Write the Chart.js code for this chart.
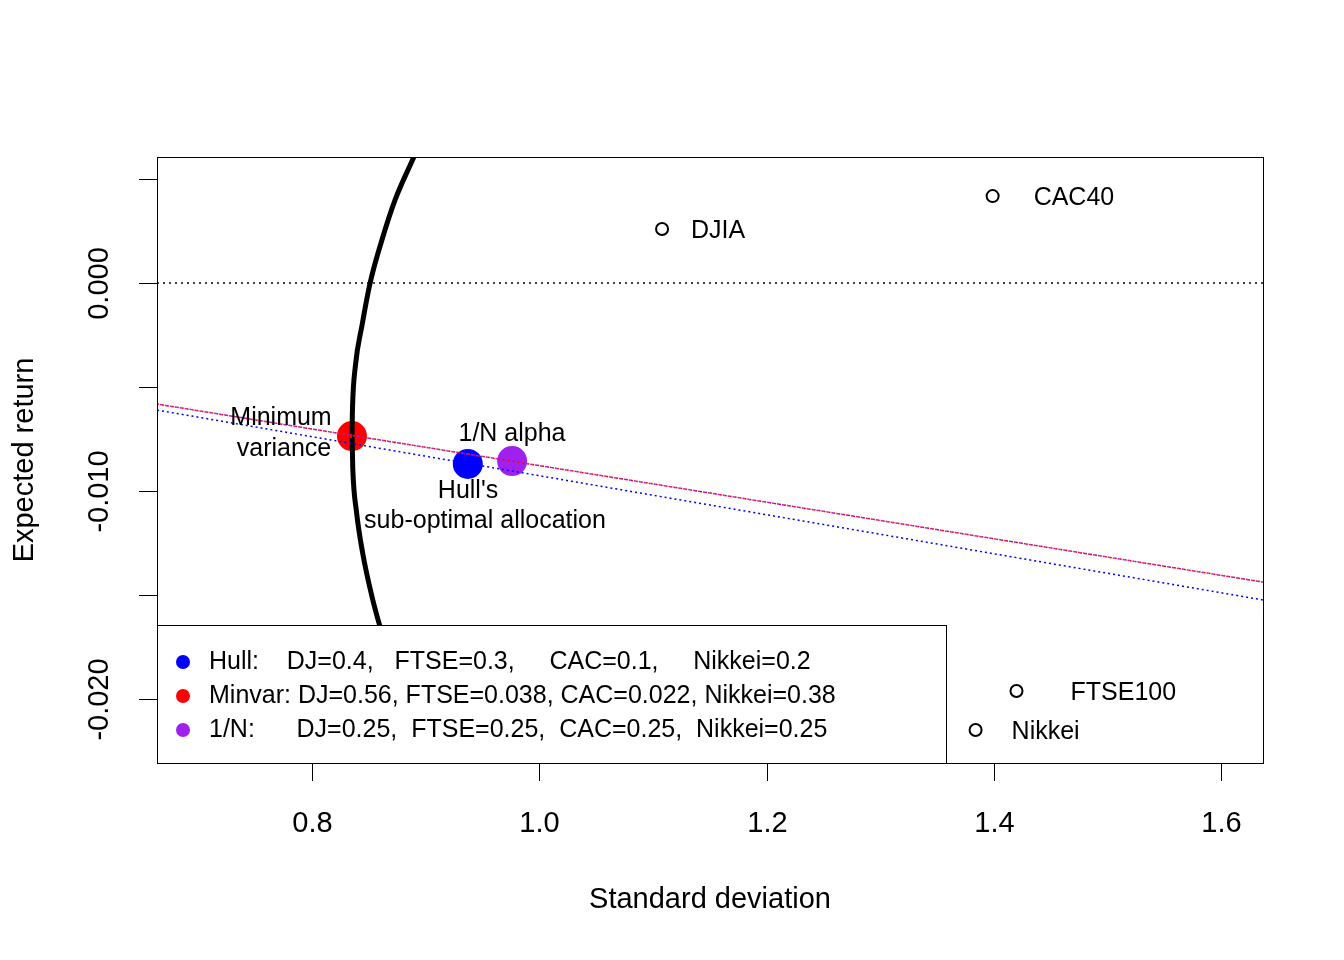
<!DOCTYPE html>
<html>
<head>
<meta charset="utf-8">
<script src="https://cdn.jsdelivr.net/npm/chart.js@4/dist/chart.umd.min.js"></script>
<style>
  html, body { margin: 0; padding: 0; background: #fff; }
  canvas { display: block; }
</style>
</head>
<body>
<canvas id="c" width="1344" height="960"></canvas>
<script>
'use strict';

// 各指数 (标准差, 期望收益)
var assetNames = ['DJIA', 'CAC40', 'FTSE100', 'Nikkei'];
var assetSd = [1.108, 1.399, 1.420, 1.384];
var assetRet = [0.0026, 0.00418, -0.01962, -0.02149];

// 组合
var minvarPt = { x: 0.835, y: -0.00736 };
var hullPt = { x: 0.937, y: -0.0087 };
var oneNPt = { x: 0.976, y: -0.00856 };

// 有效前沿
var frontierRet = [0.0065, 0.006, 0.004, 0.002, 0, -0.002, -0.004, -0.006, -0.00736, -0.009, -0.011, -0.013, -0.015, -0.0165, -0.019, -0.023];
var frontierSd = [0.893, 0.889, 0.873, 0.861, 0.851, 0.844, 0.838, 0.8355, 0.835, 0.8358, 0.839, 0.8445, 0.8523, 0.8596, 0.874, 0.904];

// 虚线
var hullLineX = [0.6634, 1.637];
var hullLineY = [-0.00611, -0.01524];
var oneNLineX = [0.6634, 1.637];
var oneNLineY = [-0.00582, -0.01438];

var xTicks = [0.8, 1.0, 1.2, 1.4, 1.6];
var yTicks = [0.005, 0, -0.005, -0.010, -0.015, -0.020];
var yTickLabels = { '0': '0.000', '-0.01': '-0.010', '-0.02': '-0.020' };

var legendColors = ['#0000ff', '#ff0000', '#a020f0'];
var legendTexts = [
  'Hull:    DJ=0.4,   FTSE=0.3,     CAC=0.1,     Nikkei=0.2',
  'Minvar: DJ=0.56, FTSE=0.038, CAC=0.022, Nikkei=0.38',
  '1/N:      DJ=0.25,  FTSE=0.25,  CAC=0.25,  Nikkei=0.25'
];

var FONT = 'Liberation Sans, Arial, sans-serif';

function zip(xs, ys) {
  return xs.map(function (x, i) { return { x: x, y: ys[i] }; });
}

var decorPlugin = {
  id: 'decor',
  afterDraw: function (chart) {
    var ctx = chart.ctx;
    var a = chart.chartArea;
    var xs = chart.scales.x, ys = chart.scales.y;
    ctx.save();
    ctx.fillStyle = '#000';
    ctx.strokeStyle = '#000';
    ctx.lineWidth = 1;

    // 点标签
    ctx.font = '25px ' + FONT;
    ctx.textBaseline = 'middle';
    ctx.textAlign = 'left';
    var offs = [29, 41, 54, 36];
    assetNames.forEach(function (n, i) {
      ctx.fillText(n, xs.getPixelForValue(assetSd[i]) + offs[i], ys.getPixelForValue(assetRet[i]) + 2);
    });
    ctx.textAlign = 'center';
    ctx.fillText('Minimum', 281, 418);
    ctx.fillText('variance', 284, 449);
    ctx.fillText('1/N alpha', 512, 434);
    ctx.fillText("Hull's", 468, 491);
    ctx.fillText('sub-optimal allocation', 485, 521);

    // 图例
    ctx.fillStyle = '#fff';
    ctx.fillRect(a.left, 625, 946 - a.left, a.bottom - 625);
    ctx.strokeRect(a.left + 0.5, 625.5, 946 - a.left, a.bottom - 625);
    legendTexts.forEach(function (t, i) {
      var y = 662 + i * 34;
      ctx.fillStyle = legendColors[i];
      ctx.beginPath();
      ctx.arc(183, y, 7, 0, Math.PI * 2);
      ctx.fill();
      ctx.fillStyle = '#000';
      ctx.textAlign = 'left';
      ctx.fillText(t, 209, y);
    });

    // 边框
    ctx.strokeStyle = '#000';
    ctx.strokeRect(a.left + 0.5, a.top + 0.5, a.right - a.left, a.bottom - a.top);

    // 坐标轴
    ctx.font = '29px ' + FONT;
    ctx.textAlign = 'center';
    ctx.textBaseline = 'middle';
    xTicks.forEach(function (t) {
      var px = Math.round(xs.getPixelForValue(t)) + 0.5;
      ctx.beginPath(); ctx.moveTo(px, a.bottom); ctx.lineTo(px, a.bottom + 18); ctx.stroke();
      ctx.fillText(t.toFixed(1), px, 824);
    });
    yTicks.forEach(function (t) {
      var py = Math.round(ys.getPixelForValue(t)) + 0.5;
      ctx.beginPath(); ctx.moveTo(a.left, py); ctx.lineTo(a.left - 18, py); ctx.stroke();
      var lab = yTickLabels[String(Math.round(t * 1000) / 1000)];
      if (lab) {
        ctx.save();
        ctx.translate(100, py);
        ctx.rotate(-Math.PI / 2);
        ctx.fillText(lab, 0, 0);
        ctx.restore();
      }
    });
    ctx.fillText('Standard deviation', 710, 900);
    ctx.save();
    ctx.translate(25, 460);
    ctx.rotate(-Math.PI / 2);
    ctx.fillText('Expected return', 0, 0);
    ctx.restore();
    ctx.restore();
  }
};

new Chart(document.getElementById('c'), {
  type: 'scatter',
  data: {
    datasets: [
      { data: [{ x: 0.6634, y: 0 }, { x: 1.637, y: 0 }], showLine: true, borderColor: '#000', borderWidth: 1.5, borderDash: [2, 4], pointRadius: 0 },
      { data: zip(hullLineX, hullLineY), showLine: true, borderColor: '#0000ff', borderWidth: 1.5, borderDash: [2, 3], pointRadius: 0 },
      { data: zip(oneNLineX, oneNLineY), showLine: true, borderColor: '#ff0000', borderWidth: 1.5, borderDash: [2, 3], pointRadius: 0 },
      { data: zip(oneNLineX, oneNLineY), showLine: true, borderColor: '#a020f0', borderWidth: 1.5, borderDash: [2, 3], borderDashOffset: 2, pointRadius: 0 },
      { data: zip(frontierSd, frontierRet), showLine: true, borderColor: '#000', borderWidth: 5, pointRadius: 0, cubicInterpolationMode: 'monotone' },
      { data: zip(assetSd, assetRet), pointRadius: 6, pointBorderWidth: 2, pointBorderColor: '#000', pointBackgroundColor: 'rgba(0,0,0,0)' },
      { data: [minvarPt], pointRadius: 15, pointBackgroundColor: '#ff0000', pointBorderWidth: 0 },
      { data: [hullPt], pointRadius: 15, pointBackgroundColor: '#0000ff', pointBorderWidth: 0 },
      { data: [oneNPt], pointRadius: 15, pointBackgroundColor: '#a020f0', pointBorderWidth: 0 }
    ]
  },
  options: {
    responsive: false,
    animation: false,
    devicePixelRatio: 1,
    layout: { padding: { left: 157, right: 81, top: 157, bottom: 197 } },
    plugins: { legend: { display: false }, tooltip: { enabled: false } },
    scales: {
      x: { type: 'linear', min: 0.6634, max: 1.637, display: false },
      y: { type: 'linear', min: -0.02308, max: 0.00606, display: false }
    }
  },
  plugins: [decorPlugin]
});
</script>
</body>
</html>
